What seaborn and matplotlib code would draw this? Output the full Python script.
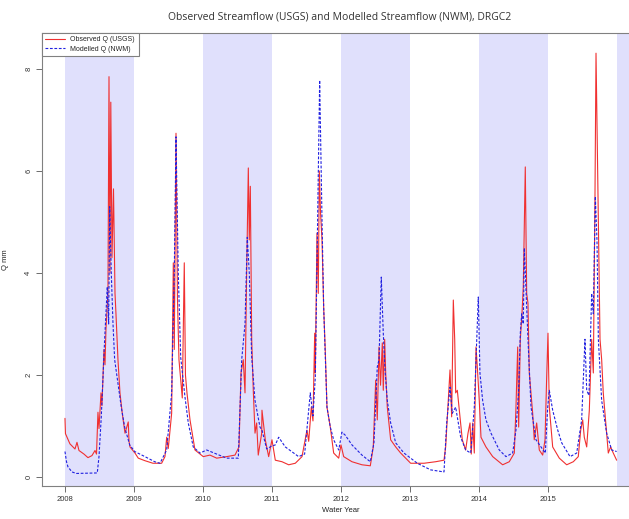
import matplotlib
matplotlib.use("Agg")
import matplotlib.pyplot as plt
import seaborn as sns
import pandas as pd

# Observed streamflow (USGS): decimal water year, Q in mm
obs_t = [
    2008.000, 2008.007, 2008.072, 2008.145, 2008.174, 2008.203, 2008.275, 2008.333,
    2008.391, 2008.435, 2008.457, 2008.478, 2008.493, 2008.522, 2008.536, 2008.565,
    2008.580, 2008.594, 2008.623, 2008.638, 2008.652, 2008.664, 2008.681, 2008.703,
    2008.725, 2008.739, 2008.768, 2008.797, 2008.830, 2008.870, 2008.917, 2008.928,
    2008.942, 2009.014, 2009.062, 2009.159, 2009.275, 2009.401, 2009.449, 2009.474,
    2009.497, 2009.546, 2009.570, 2009.584, 2009.609, 2009.630, 2009.652, 2009.700,
    2009.729, 2009.746, 2009.768, 2009.812, 2009.884, 2009.957, 2010.004, 2010.101,
    2010.199, 2010.343, 2010.464, 2010.522, 2010.551, 2010.584, 2010.609, 2010.633,
    2010.657, 2010.671, 2010.686, 2010.706, 2010.729, 2010.754, 2010.778, 2010.801,
    2010.851, 2010.855, 2010.903, 2010.952, 2011.000, 2011.048, 2011.145, 2011.242,
    2011.338, 2011.435, 2011.507, 2011.532, 2011.570, 2011.594, 2011.619, 2011.628,
    2011.652, 2011.671, 2011.686, 2011.703, 2011.725, 2011.749, 2011.772, 2011.797,
    2011.845, 2011.894, 2011.967, 2012.000, 2012.039, 2012.159, 2012.304, 2012.425,
    2012.468, 2012.503, 2012.526, 2012.551, 2012.573, 2012.599, 2012.613, 2012.633,
    2012.648, 2012.671, 2012.720, 2012.793, 2012.865, 2013.010, 2013.203, 2013.372,
    2013.493, 2013.517, 2013.580, 2013.604, 2013.628, 2013.648, 2013.662, 2013.686,
    2013.710, 2013.758, 2013.807, 2013.841, 2013.870, 2013.888, 2013.909, 2013.932,
    2013.957, 2013.981, 2014.004, 2014.029, 2014.101, 2014.199, 2014.343, 2014.439,
    2014.512, 2014.536, 2014.561, 2014.575, 2014.599, 2014.623, 2014.642, 2014.671,
    2014.691, 2014.710, 2014.729, 2014.778, 2014.801, 2014.836, 2014.874, 2014.923,
    2014.957, 2014.981, 2015.000, 2015.019, 2015.068, 2015.164, 2015.271, 2015.367,
    2015.439, 2015.474, 2015.503, 2015.526, 2015.561, 2015.599, 2015.633, 2015.657,
    2015.681, 2015.696, 2015.714, 2015.735, 2015.754, 2015.778, 2015.801, 2015.850,
    2015.874, 2015.908, 2015.946, 2015.995,
]
obs_q = [
    1.15, 0.85, 0.65, 0.55, 0.68, 0.52, 0.45, 0.38,
    0.42, 0.52, 0.45, 1.27, 0.95, 1.65, 1.40, 2.50,
    2.20, 2.90, 3.60, 7.85, 4.00, 7.35, 4.30, 5.65,
    3.60, 3.20, 2.30, 1.65, 1.25, 0.86, 1.08, 0.70,
    0.59, 0.47, 0.37, 0.32, 0.27, 0.27, 0.40, 0.78,
    0.56, 1.25, 4.20, 2.50, 6.74, 3.50, 2.30, 1.55,
    4.20, 2.00, 1.65, 1.12, 0.53, 0.45, 0.40, 0.43,
    0.37, 0.40, 0.43, 0.59, 2.04, 2.30, 1.65, 4.00,
    6.06, 4.65, 5.70, 2.70, 1.70, 0.86, 1.06, 0.43,
    0.86, 1.31, 0.73, 0.40, 0.73, 0.33, 0.30, 0.24,
    0.27, 0.40, 0.92, 0.70, 1.37, 1.10, 2.82, 2.04,
    4.78, 3.60, 6.00, 5.20, 4.65, 3.33, 2.49, 1.37,
    0.98, 0.47, 0.37, 0.63, 0.40, 0.30, 0.24, 0.22,
    0.59, 1.90, 1.12, 2.55, 1.80, 2.63, 1.70, 2.70,
    2.04, 1.37, 0.73, 0.59, 0.47, 0.27, 0.27, 0.30,
    0.33, 0.59, 2.10, 1.18, 3.47, 2.70, 1.65, 1.70,
    1.37, 0.73, 0.53, 0.86, 1.06, 0.45, 1.06, 0.47,
    2.55, 2.04, 1.50, 0.78, 0.59, 0.40, 0.24, 0.30,
    0.47, 1.37, 2.55, 0.98, 2.70, 3.20, 3.73, 6.08,
    3.60, 3.41, 2.04, 1.25, 0.73, 1.06, 0.53, 0.43,
    0.73, 1.96, 2.82, 1.37, 0.59, 0.37, 0.24, 0.30,
    0.40, 0.92, 1.12, 0.78, 0.59, 1.31, 2.70, 2.04,
    5.50, 8.31, 6.60, 4.65, 2.70, 2.30, 1.65, 0.86,
    0.47, 0.59, 0.47, 0.33,
]

# Modelled streamflow (NWM)
mod_t = [
    2008.000, 2008.022, 2008.043, 2008.101, 2008.164, 2008.468, 2008.493, 2008.526,
    2008.575, 2008.613, 2008.633, 2008.648, 2008.671, 2008.696, 2008.720, 2008.768,
    2008.816, 2008.865, 2008.938, 2009.010, 2009.159, 2009.300, 2009.377, 2009.474,
    2009.546, 2009.584, 2009.609, 2009.642, 2009.677, 2009.739, 2009.787, 2009.859,
    2009.957, 2010.054, 2010.199, 2010.343, 2010.512, 2010.561, 2010.609, 2010.642,
    2010.671, 2010.706, 2010.754, 2010.826, 2010.855, 2010.923, 2010.986, 2011.048,
    2011.097, 2011.193, 2011.386, 2011.473, 2011.555, 2011.594, 2011.628, 2011.662,
    2011.691, 2011.725, 2011.749, 2011.797, 2011.845, 2011.894, 2011.967, 2012.014,
    2012.062, 2012.159, 2012.304, 2012.425, 2012.478, 2012.526, 2012.551, 2012.584,
    2012.613, 2012.638, 2012.671, 2012.720, 2012.793, 2012.913, 2013.106, 2013.300,
    2013.493, 2013.532, 2013.580, 2013.613, 2013.662, 2013.735, 2013.807, 2013.880,
    2013.932, 2013.990, 2014.014, 2014.053, 2014.101, 2014.174, 2014.294, 2014.391,
    2014.488, 2014.536, 2014.575, 2014.599, 2014.619, 2014.642, 2014.657, 2014.681,
    2014.710, 2014.754, 2014.826, 2014.899, 2014.961, 2014.996, 2015.019, 2015.068,
    2015.141, 2015.199, 2015.319, 2015.416, 2015.488, 2015.536, 2015.561, 2015.594,
    2015.633, 2015.657, 2015.686, 2015.710, 2015.730, 2015.778, 2015.850, 2015.923,
    2015.995,
]
mod_q = [
    0.50, 0.30, 0.20, 0.10, 0.07, 0.08, 0.40, 1.18,
    2.70, 3.73, 3.00, 5.30, 4.00, 3.00, 2.30, 1.84,
    1.37, 0.98, 0.63, 0.50, 0.40, 0.30, 0.27, 0.53,
    1.65, 4.00, 6.67, 4.00, 2.35, 1.57, 1.06, 0.59,
    0.47, 0.53, 0.45, 0.37, 0.37, 2.30, 3.00, 4.70,
    4.00, 2.35, 1.50, 0.98, 0.92, 0.55, 0.60, 0.63,
    0.78, 0.59, 0.40, 0.45, 1.65, 1.20, 1.96, 5.04,
    7.78, 5.04, 3.33, 1.37, 0.98, 0.73, 0.53, 0.88,
    0.82, 0.63, 0.43, 0.30, 0.67, 2.16, 2.30, 3.92,
    2.82, 2.10, 1.50, 1.06, 0.67, 0.47, 0.27, 0.14,
    0.10, 1.06, 1.76, 1.25, 1.37, 0.78, 0.53, 0.47,
    1.37, 3.53, 2.04, 1.50, 1.12, 0.86, 0.53, 0.40,
    0.47, 0.92, 1.70, 2.82, 3.20, 3.00, 4.49, 3.67,
    2.70, 1.37, 0.73, 0.59, 0.47, 1.37, 1.70, 1.31,
    0.92, 0.67, 0.40, 0.47, 1.12, 2.70, 1.70, 1.60,
    3.60, 3.20, 5.50, 4.65, 2.70, 1.50, 0.86, 0.53,
    0.50,
]

# Shaded water years and tick labels
shade_starts = [2008, 2010, 2012, 2014, 2016]
x_ticks = [2008, 2009, 2010, 2011, 2012, 2013, 2014, 2015]
y_ticks = [0, 2, 4, 6, 8]

obs = pd.DataFrame({"t": obs_t, "q": obs_q})
mod = pd.DataFrame({"t": mod_t, "q": mod_q})

sns.set_style("ticks")
plt.rcParams["font.family"] = ["Liberation Sans", "DejaVu Sans"]

fig = plt.figure(figsize=(6.29, 5.19), dpi=100)
ax = fig.add_axes([42 / 629, 33 / 519, 597 / 629, 453 / 519])

for s in shade_starts:
    ax.axvspan(s, s + 1, color="#E0E0FC", lw=0, zorder=0)

sns.lineplot(data=obs, x="t", y="q", ax=ax, color="#F03030", lw=0.8,
             label="Observed Q (USGS)", zorder=3)
sns.lineplot(data=mod, x="t", y="q", ax=ax, color="#2020E0", lw=0.8,
             linestyle=(0, (2.5, 1.5)), label="Modelled Q (NWM)", zorder=4)

ax.set_xlim(2007.667, 2016.319)
ax.set_ylim(-0.176, 8.706)
ax.set_xticks(x_ticks)
ax.set_xticklabels([str(v) for v in x_ticks])
ax.set_yticks(y_ticks)
ax.set_yticklabels([str(v) for v in y_ticks], rotation=90, va="center")
ax.tick_params(labelsize=5.5, length=4, width=0.6, color="#555555",
               labelcolor="#333333", pad=3)

for side in ["left", "bottom", "top", "right"]:
    ax.spines[side].set_color("#808080")
    ax.spines[side].set_linewidth(0.8)

ax.set_xlabel("Water Year", fontsize=5.5, color="#222222", labelpad=3)
ax.set_ylabel("Q mm", fontsize=5.5, color="#222222", labelpad=12)

leg = ax.legend(loc="upper left", borderaxespad=0, fancybox=False,
                framealpha=1, edgecolor="#808080", fontsize=5,
                handlelength=2.8, borderpad=0.5, labelspacing=0.3)
leg.get_frame().set_linewidth(0.8)

fig.text(340 / 629, 1 - 17 / 519,
         "Observed Streamflow (USGS) and Modelled Streamflow (NWM), DRGC2",
         ha="center", va="center", fontsize=7.5, color="#333333",
         family=["Open Sans", "DejaVu Sans"])

fig.savefig("out.png", dpi=100)
